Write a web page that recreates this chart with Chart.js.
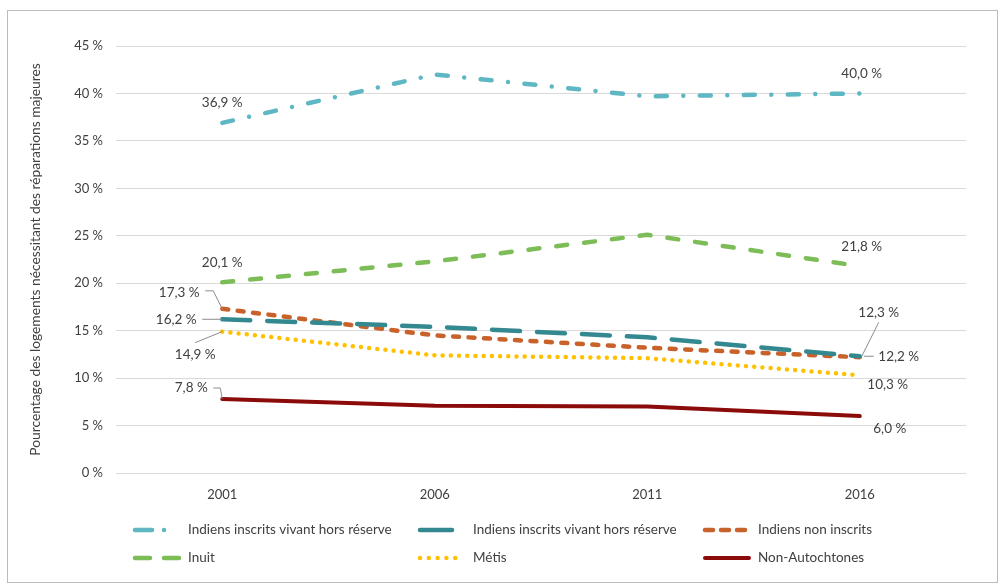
<!DOCTYPE html>
<html>
<head>
<meta charset="utf-8">
<script src="https://cdn.jsdelivr.net/npm/chart.js@4.4.1/dist/chart.umd.min.js"></script>
<style>
  html, body { margin: 0; padding: 0; background: #fff; }
  #wrap { position: absolute; left: 0; top: 0; width: 1000px; height: 587px; }
  #border { position: absolute; left: 7px; top: 10px; width: 989px; height: 571px; border: 1px solid #bcbcbc; pointer-events: none; }
</style>
</head>
<body>
<div id="wrap"><canvas id="chart" width="1000" height="587"></canvas></div>
<div id="border"></div>
<script>
// Data
const years = ['2001', '2006', '2011', '2016'];
const horsReserve = [36.9, 42.0, 39.7, 40.0];
const inscrits = [16.2, 15.4, 14.3, 12.3];
const nonInscrits = [17.3, 14.5, 13.2, 12.2];
const inuit = [20.1, 22.3, 25.1, 21.8];
const metis = [14.9, 12.4, 12.1, 10.3];
const nonAutochtones = [7.8, 7.1, 7.0, 6.0];
const seriesNames = [
  'Indiens inscrits vivant hors réserve',
  'Indiens inscrits vivant hors réserve',
  'Indiens non inscrits',
  'Inuit',
  'Métis',
  'Non-Autochtones'
];
const yMax = 45;
const yStep = 5;
const yTitle = 'Pourcentage des logements nécessitant des réparations majeures';

const FONT = 'Lato, "Open Sans", sans-serif';
const TEXT = '#404040';

// Where each value label sits, relative to its point (layout only)
const labelSpots = [
  [{ i: 0, dx: 0, dy: -20 }, { i: 3, dx: 2, dy: -20 }],
  [{ i: 0, dx: -46, dy: 0, leader: [[-20, 0], [0, 0]] },
   { i: 3, dx: 19, dy: -44, leader: [[19, -34], [2, 0]] }],
  [{ i: 0, dx: -43, dy: -16, leader: [[-17, -18], [-9, -18], [0, 0]] },
   { i: 3, dx: 39, dy: -1, leader: [[4, -1], [14, -1]] }],
  [{ i: 0, dx: 0, dy: -20 }, { i: 3, dx: 2, dy: -20 }],
  [{ i: 0, dx: -27, dy: 23, leader: [[-27, 11], [0, 0]] }, { i: 3, dx: 28, dy: 9 }],
  [{ i: 0, dx: -31, dy: -11, leader: [[-9, -11], [-2, -11], [0, 0]] }, { i: 3, dx: 30, dy: 13 }]
];

function formatPct(v) {
  return v.toFixed(1).replace('.', ',') + '\u00a0%';
}

// Value labels with leader lines
const valueLabels = {
  id: 'valueLabels',
  afterDatasetsDraw(chart) {
    const ctx = chart.ctx;
    ctx.save();
    ctx.font = '13.5px ' + FONT;
    ctx.fillStyle = TEXT;
    ctx.textAlign = 'center';
    ctx.textBaseline = 'middle';
    chart.data.datasets.forEach((ds, d) => {
      const pts = chart.getDatasetMeta(d).data;
      labelSpots[d].forEach(s => {
        const p = pts[s.i];
        if (s.leader) {
          ctx.beginPath();
          s.leader.forEach(([lx, ly], k) => {
            if (k) ctx.lineTo(p.x + lx, p.y + ly);
            else ctx.moveTo(p.x + lx, p.y + ly);
          });
          ctx.strokeStyle = '#8c8c8c';
          ctx.lineWidth = 1;
          ctx.setLineDash([]);
          ctx.stroke();
        }
        ctx.fillText(formatPct(ds.data[s.i]), p.x + s.dx, p.y + s.dy);
      });
    });
    ctx.restore();
  }
};

// Legend in a fixed 3-column grid
const gridLegend = {
  id: 'gridLegend',
  afterDraw(chart) {
    const ctx = chart.ctx;
    const cols = [133, 418, 703];
    const rows = [530, 558];
    ctx.save();
    ctx.font = '13.5px ' + FONT;
    ctx.textBaseline = 'middle';
    ctx.textAlign = 'left';
    chart.data.datasets.forEach((ds, d) => {
      const x = cols[d % 3];
      const y = rows[Math.floor(d / 3)];
      ctx.beginPath();
      ctx.strokeStyle = ds.borderColor;
      ctx.lineWidth = ds.borderWidth;
      ctx.lineCap = 'round';
      ctx.setLineDash(ds.legendDash);
      ctx.moveTo(x + 2, y);
      ctx.lineTo(x + 46, y);
      ctx.stroke();
      ctx.fillStyle = TEXT;
      ctx.fillText(ds.label, x + 55, y);
    });
    ctx.restore();
  }
};

const seriesData = [horsReserve, inscrits, nonInscrits, inuit, metis, nonAutochtones];
const seriesColors = ['#5eb7c2', '#348890', '#c8622a', '#7dbd58', '#ffc000', '#8b0a0a'];
const seriesDash = [[11, 16.5, 0.01, 16.5], [28, 17], [6, 9.5], [11, 17], [0.01, 8.2], []];
const legendDash = [[17, 12, 0.01, 16, 0.01, 100], [32, 15, 0.01, 100], [8, 8], [15, 14], [0.01, 8.8], []];

const datasets = seriesData.map((data, k) => ({
  label: seriesNames[k],
  data: data,
  borderColor: seriesColors[k],
  borderWidth: k === 5 ? 4 : 4.5,
  borderDash: seriesDash[k],
  borderCapStyle: 'round',
  borderJoinStyle: 'round',
  legendDash: legendDash[k],
  pointRadius: 0,
  tension: 0,
  fill: false
}));

new Chart(document.getElementById('chart'), {
  type: 'line',
  data: { labels: years, datasets: datasets },
  options: {
    responsive: false,
    animation: false,
    layout: { padding: { left: 0, top: 46, right: 34, bottom: 84 } },
    plugins: {
      legend: { display: false },
      tooltip: { enabled: false }
    },
    scales: {
      x: {
        offset: true,
        grid: { display: false, drawTicks: false },
        border: { display: false },
        ticks: { padding: 14, color: TEXT, font: { family: FONT, size: 13 } },
        afterFit: s => { s.height = 30; }
      },
      y: {
        min: 0,
        max: yMax,
        grid: { color: '#d9d9d9', drawTicks: false, lineWidth: 1 },
        border: { display: false },
        ticks: {
          stepSize: yStep,
          padding: 13,
          color: TEXT,
          font: { family: FONT, size: 13 },
          callback: v => v + '\u00a0%'
        },
        title: {
          display: true,
          text: yTitle,
          color: TEXT,
          font: { family: FONT, size: 13.8 },
          padding: { top: 27, bottom: 0 }
        },
        afterFit: s => { s.width = 116; }
      }
    }
  },
  plugins: [valueLabels, gridLegend]
});
</script>
</body>
</html>
